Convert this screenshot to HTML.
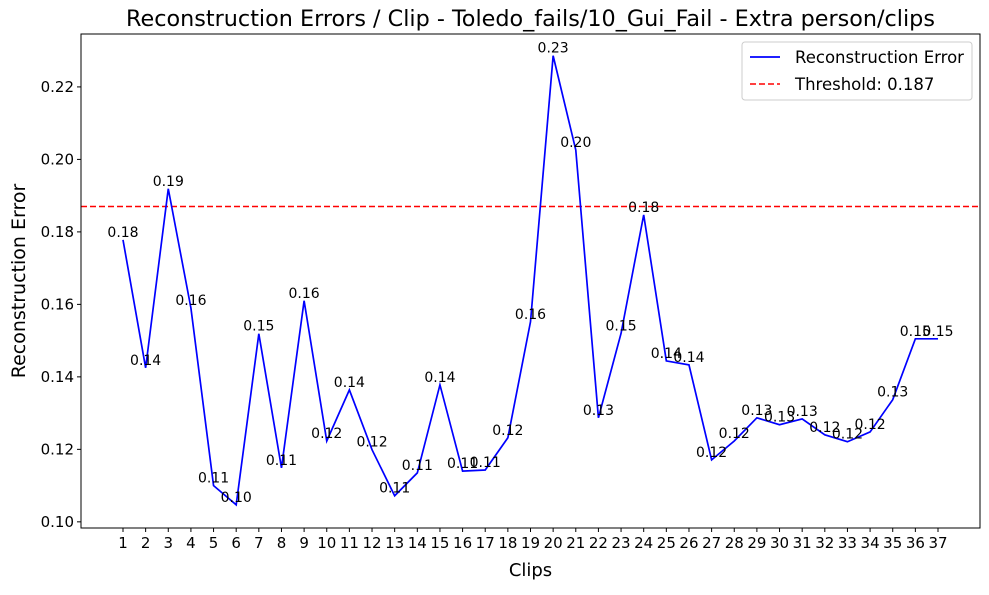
<!DOCTYPE html>
<html><head><meta charset="utf-8"><style>
body{margin:0;background:#fff;}
svg text{font-family:"DejaVu Sans","Liberation Sans",sans-serif;}
</style></head><body>
<svg id="chart" width="989" height="590" xmlns="http://www.w3.org/2000/svg"></svg>
<script>
const clips = [1,2,3,4,5,6,7,8,9,10,11,12,13,14,15,16,17,18,19,20,21,22,23,24,25,26,27,28,29,30,31,32,33,34,35,36,37];
const errors = [0.1778,0.1425,0.1919,0.159,0.110,0.1047,0.1519,0.1149,0.161,0.1223,0.1364,0.1199,0.1072,0.1135,0.1378,0.114,0.1143,0.1232,0.1552,0.2286,0.2026,0.1287,0.152,0.1847,0.1444,0.1433,0.1171,0.1223,0.1287,0.1268,0.1284,0.124,0.1221,0.1248,0.1337,0.1505,0.1505];
const threshold = 0.187;
const yTicks = [0.10,0.12,0.14,0.16,0.18,0.20,0.22];

const L=81,R=980,T=34,B=528;
const xMin=-0.855,xMax=38.855,yMin=0.0983,yMax=0.2346;
const sx=v=>L+(v-xMin)/(xMax-xMin)*(R-L);
const sy=v=>B-(v-yMin)/(yMax-yMin)*(B-T);
const svg=document.getElementById('chart');
const NS='http://www.w3.org/2000/svg';
function mk(tag,attrs,text){const e=document.createElementNS(NS,tag);for(const k in attrs)e.setAttribute(k,attrs[k]);if(text!==undefined)e.textContent=text;svg.appendChild(e);return e;}

let e;
e=mk('text',{x:(L+R)/2,y:26,'text-anchor':'middle','font-size':22.3},'Reconstruction Errors / Clip - Toledo_fails/10_Gui_Fail - Extra person/clips');



yTicks.forEach(v=>{
  const y=sy(v);
  e=mk('line',{x1:L-4,x2:L,y1:y,y2:y,stroke:'#000'});
  
  
  e=mk('text',{x:L-7,y:y+5,'text-anchor':'end','font-size':15},v.toFixed(2));
  
  
});
clips.forEach(c=>{
  const x=sx(c);
  e=mk('line',{x1:x,x2:x,y1:B,y2:B+4,stroke:'#000'});
  
  
  e=mk('text',{x:x,y:B+20,'text-anchor':'middle','font-size':15},String(c));
  
  
});
e=mk('text',{x:(L+R)/2,y:576,'text-anchor':'middle','font-size':18},'Clips');


e=mk('text',{x:25,y:(T+B)/2,'text-anchor':'middle','font-size':19,transform:`rotate(-90 25 ${(T+B)/2})`},'Reconstruction Error');



e=mk('line',{x1:L,x2:R,y1:sy(threshold),y2:sy(threshold),stroke:'#f00','stroke-width':1.5,'stroke-dasharray':'6,3'});



e=mk('polyline',{points:clips.map((c,i)=>sx(c)+','+sy(errors[i])).join(' '),fill:'none',stroke:'#00f','stroke-width':1.7});



clips.forEach((c,i)=>{
  e=mk('text',{x:sx(c),y:sy(errors[i])-3,'text-anchor':'middle','font-size':14},errors[i].toFixed(2));
  
  
});

e=mk('rect',{x:L,y:T,width:R-L,height:B-T,fill:'none',stroke:'#000','stroke-width':1});



e=mk('rect',{x:742,y:42,width:230,height:58,rx:3,fill:'#fff',stroke:'#ccc'});


e=mk('line',{x1:750,x2:780,y1:57,y2:57,stroke:'#00f','stroke-width':1.7});


e=mk('text',{x:795,y:63,'font-size':16.5},'Reconstruction Error');


e=mk('line',{x1:750,x2:780,y1:84,y2:84,stroke:'#f00','stroke-width':1.5,'stroke-dasharray':'6,3'});


e=mk('text',{x:795,y:90,'font-size':16.5},'Threshold: 0.187');


</script>
</body></html>
